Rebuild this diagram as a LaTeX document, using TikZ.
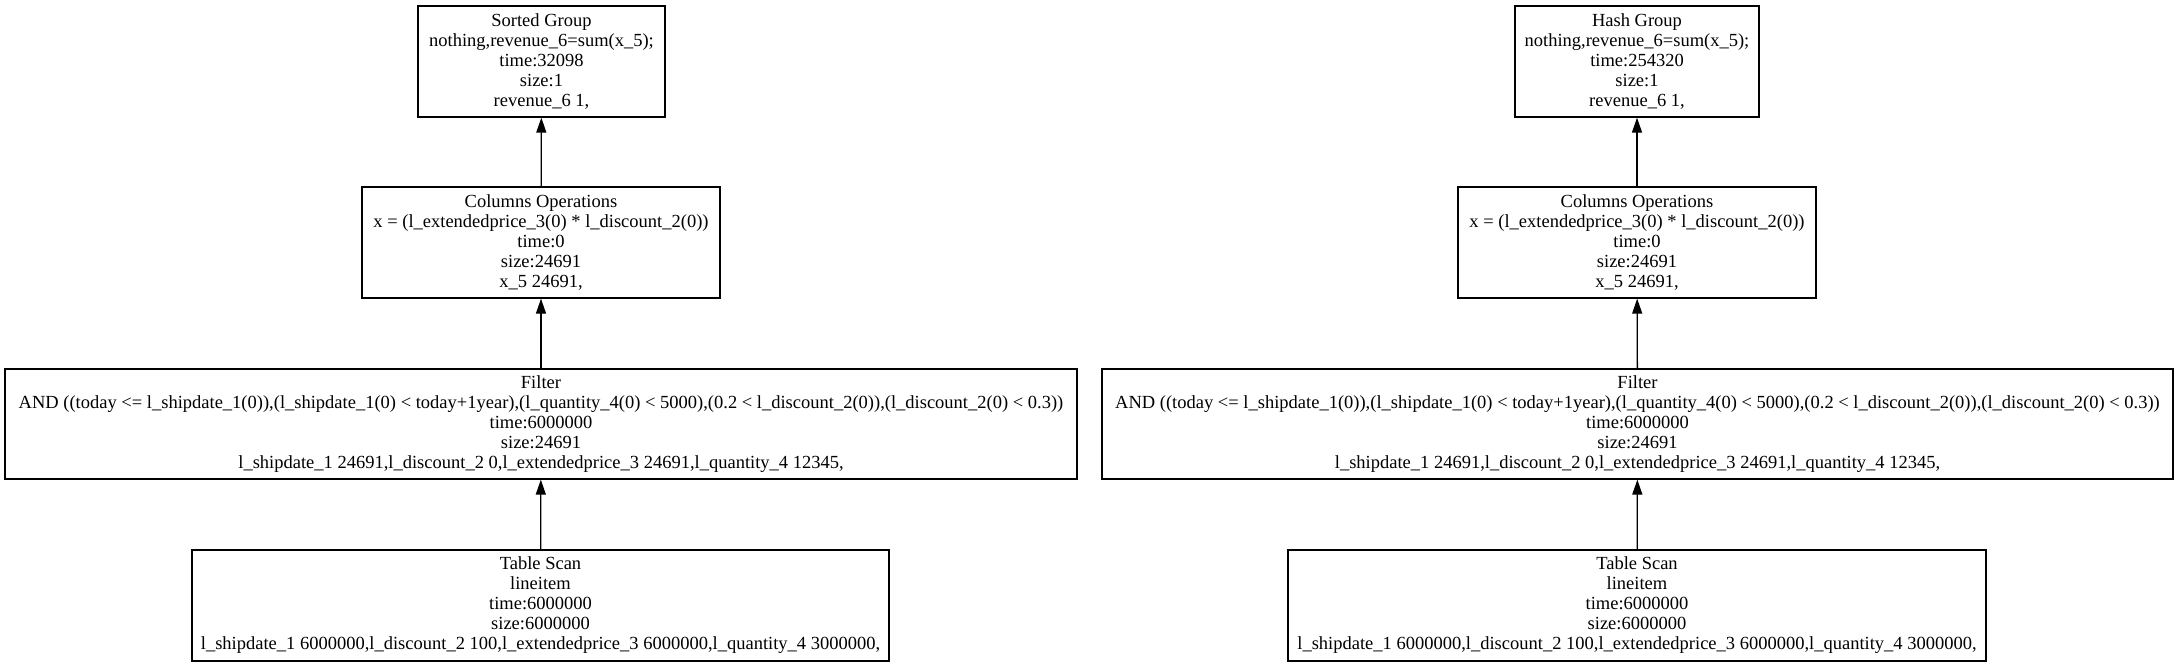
\documentclass[tikz,border=0pt]{standalone}
\usepackage{fontspec}
\setmainfont{Liberation Serif}
\usetikzlibrary{arrows.meta}
\tikzset{
  opbox/.style={draw=black, line width=1.3pt, rectangle, align=center, inner sep=2pt,
    minimum height=111pt, font=\fontsize{18.5}{20}\selectfont},
  flow/.style={draw=black, line width=1.3pt, -{Triangle[width=10pt,length=15pt]}}
}
\begin{document}
\begin{tikzpicture}[x=1pt,y=-1pt]
\useasboundingbox (0,0) rectangle (2179,667);
% left tree
\node[opbox, minimum width=247pt] (sg) at (541.5,61.5) {Sorted Group\\nothing,revenue\_6=sum(x\_5);\\time:32098\\size:1\\revenue\_6 1,};
\node[opbox, minimum width=358pt] (co) at (541,242.5) {Columns Operations\\x = (l\_extendedprice\_3(0) * l\_discount\_2(0))\\time:0\\size:24691\\x\_5 24691,};
\node[opbox, minimum width=1072pt, minimum height=110pt] (fi) at (541,424) {Filter\\AND ((today <= l\_shipdate\_1(0)),(l\_shipdate\_1(0) < today+1year),(l\_quantity\_4(0) < 5000),(0.2 < l\_discount\_2(0)),(l\_discount\_2(0) < 0.3))\\time:6000000\\size:24691\\l\_shipdate\_1 24691,l\_discount\_2 0,l\_extendedprice\_3 24691,l\_quantity\_4 12345,};
\node[opbox, minimum width=697pt] (ts) at (540.5,605.5) {Table Scan\\lineitem\\time:6000000\\size:6000000\\l\_shipdate\_1 6000000,l\_discount\_2 100,l\_extendedprice\_3 6000000,l\_quantity\_4 3000000,};
\draw[flow] (co) -- (sg);
\draw[flow] (fi) -- (co);
\draw[flow] (ts) -- (fi);
% right tree
\node[opbox, minimum width=244pt] (hg) at (1637,61.5) {Hash Group\\nothing,revenue\_6=sum(x\_5);\\time:254320\\size:1\\revenue\_6 1,};
\node[opbox, minimum width=358pt] (co2) at (1637,242.5) {Columns Operations\\x = (l\_extendedprice\_3(0) * l\_discount\_2(0))\\time:0\\size:24691\\x\_5 24691,};
\node[opbox, minimum width=1071pt, minimum height=110pt] (fi2) at (1637.5,424) {Filter\\AND ((today <= l\_shipdate\_1(0)),(l\_shipdate\_1(0) < today+1year),(l\_quantity\_4(0) < 5000),(0.2 < l\_discount\_2(0)),(l\_discount\_2(0) < 0.3))\\time:6000000\\size:24691\\l\_shipdate\_1 24691,l\_discount\_2 0,l\_extendedprice\_3 24691,l\_quantity\_4 12345,};
\node[opbox, minimum width=698pt] (ts2) at (1637,605.5) {Table Scan\\lineitem\\time:6000000\\size:6000000\\l\_shipdate\_1 6000000,l\_discount\_2 100,l\_extendedprice\_3 6000000,l\_quantity\_4 3000000,};
\draw[flow] (co2) -- (hg);
\draw[flow] (fi2) -- (co2);
\draw[flow] (ts2) -- (fi2);
\end{tikzpicture}
\end{document}
